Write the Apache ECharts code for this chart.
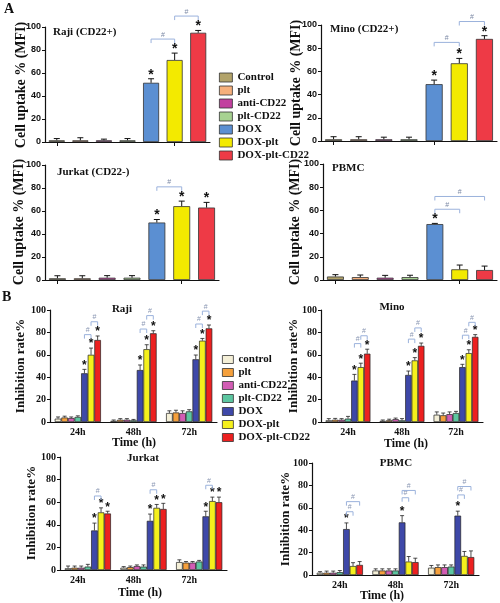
<!DOCTYPE html>
<html><head><meta charset="utf-8">
<script src="https://cdn.jsdelivr.net/npm/echarts@6/dist/echarts.min.js"></script>
<style>html,body{margin:0;padding:0;background:#fff}#c{width:500px;height:603px}</style>
</head><body><div id="c"></div><script>
// ---------- data ----------
const namesA = ["Control","plt","anti-CD22","plt-CD22","DOX","DOX-plt","DOX-plt-CD22"];
const namesB = ["control","plt","anti-CD22","plt-CD22","DOX","DOX-plt","DOX-plt-CD22"];
const timeLabels = ["24h","48h","72h"];

// Panel A: cell uptake % (MFI)
const rajiA    = [1.5,1.5,1.5,1.5,51.5,71.3,95];
const rajiAErr = [1.5,2.2,1,1.5,3.5,6,2];
const minoA    = [1.5,1.5,1.5,1.5,49,67,88];
const minoAErr = [2.2,2.2,1.8,1.8,3.5,4.2,2.8];
const jurkatA    = [1.5,1.5,2,2,50,64.2,63];
const jurkatAErr = [2.2,2.2,1.8,1.8,2.6,4.4,4.5];
const pbmcA    = [3,2.5,2,2.5,48.2,9.2,8.6];
const pbmcAErr = [1.6,1.8,2,1.6,0.6,3.7,3.4];
const starsA3 = [4,5,6];
const starsA1 = [4];
const rajiABr   = [[4,5,89.5],[5,6,109.5]];
const minoABr   = [[4,5,85],[5,6,103]];
const jurkatABr = [[4,5,81]];
const pbmcABr   = [[4,5,61],[4,6,72]];

// Panel B: inhibition rate %, rows = 24h/48h/72h, cols = groups
const rajiB = [[3,4,3.5,4.5,43.5,60,73.2],[1,2,2,1.5,46.4,65,79.2],[8,8.5,8,9.5,56,72.6,83.6]];
const rajiBErr = [[1.5,1.2,1,1,3.5,6,3.6],[0.8,1,1,0.8,4.5,4,2.3],[2,2,2,1.5,3.8,2,3]];
const minoB = [[1.5,2,2,3,37,49,61],[1,1.5,2.5,1.5,42,55,68],[6.5,6,7,8,49,61.5,76]];
const minoBErr = [[1.5,1.2,1,2,5.5,3.5,4],[0.8,1,1,1.5,3.5,2.5,2.5],[2.5,2,2,1.5,2.5,3,2]];
const jurkatB = [[1.5,2,2,3,35,51,50],[2,2.5,3.5,3,43.5,55,54],[7,6.5,6.5,7.5,47.5,61,60]];
const jurkatBErr = [[2,1.5,1.5,2,6.5,4,2],[1,1,1,1.5,6,3,5],[2,1,1,1,4.5,3.5,4.5]];
const pbmcB = [[2,2,2,2.5,41,8,9],[4,4,4,4,47,12,11.5],[6.5,7,7,7.5,53,17,16]];
const pbmcBErr = [[1,1.5,1.5,1.5,5.5,3,3],[1.5,1.5,1.5,1.5,6,4.5,3.5],[2,2,2,1.5,4,4,5.5]];
const starsB3 = [4,5,6];
const starsB1 = [4];
const rajiBBr   = [[0,4,5,78],[0,5,6,89.5],[1,4,5,83],[1,5,6,95],[2,4,5,87.5],[2,5,6,99]];
const minoBBr   = [[0,4,5,70],[0,5,6,77],[1,4,5,74],[1,5,6,84],[2,4,5,77.5],[2,5,6,89]];
const jurkatBBr = [[0,4,5,65.5],[1,4,5,71],[2,4,5,75]];
const pbmcBBr   = [[0,4,5,56.5],[0,4,6,65.5],[1,4,5,69],[1,4,6,75.5],[2,4,5,71.5],[2,4,6,79]];

// ---------- style ----------
const SERIF = '"Liberation Serif","Times New Roman",serif';
const SANS = '"Liberation Sans",Arial,sans-serif';
const colA = ['#b2a36a','#f6b07c','#c2409f','#a7d291','#5b8fd2','#f3ea00','#ee3a46'];
const colB = ['#f4efd7','#f5a03c','#d25cb4','#5cc6a0','#3e48a8','#f5f01c','#ec2020'];
const GAP_B = 0.17;
const BR_COLOR = '#9bb2dc';

const grids=[], xAxes=[], yAxes=[], series=[];

function errA(params, api){
  const x=api.value(0), v=api.value(1), e=api.value(2), s=api.value(3);
  const p0=api.coord([x,v]), p1=api.coord([x,v+e]);
  const ch=[
    {type:'line',shape:{x1:p0[0],y1:p0[1],x2:p1[0],y2:p1[1]},style:{stroke:'#111',lineWidth:1}},
    {type:'line',shape:{x1:p1[0]-3,y1:p1[1],x2:p1[0]+3,y2:p1[1]},style:{stroke:'#111',lineWidth:1}}
  ];
  if(s) ch.push({type:'text',x:p1[0],y:p1[1]-4,style:{text:'*',fill:'#111',font:'bold 14px '+SANS,align:'center',verticalAlign:'middle'}});
  return {type:'group',children:ch};
}
function brA(params, api){
  const a=api.value(0), b=api.value(1), y=api.value(2);
  const pa=api.coord([a,y]), pb=api.coord([b,y]);
  return {type:'group',children:[
    {type:'polyline',shape:{points:[[pa[0],pa[1]+4],[pa[0],pa[1]],[pb[0],pb[1]],[pb[0],pb[1]+4]]},style:{stroke:BR_COLOR,fill:null,lineWidth:1}},
    {type:'text',x:(pa[0]+pb[0])/2,y:pa[1]-1,style:{text:'#',fill:'#7d8aa6',font:'7px '+SANS,align:'center',verticalAlign:'bottom'}}
  ]};
}
function barX(api, g, si){
  const band=api.size([1,0])[0];
  const total=band*(1-GAP_B), w=total/7;
  const c=api.coord([g,0]);
  return c[0]-total/2+w*(si+0.5);
}
function errB(params, api){
  const g=api.value(0), si=api.value(1), v=api.value(2), e=api.value(3), s=api.value(4);
  const x=barX(api,g,si);
  const y0=api.coord([g,v])[1], y1=api.coord([g,v+e])[1];
  const ch=[
    {type:'line',shape:{x1:x,y1:y0,x2:x,y2:y1},style:{stroke:'#222',lineWidth:0.8}},
    {type:'line',shape:{x1:x-2,y1:y1,x2:x+2,y2:y1},style:{stroke:'#222',lineWidth:0.8}}
  ];
  if(s) ch.push({type:'text',x:x,y:y1-4,style:{text:'*',fill:'#111',font:'bold 12px '+SANS,align:'center',verticalAlign:'middle'}});
  return {type:'group',children:ch};
}
function brB(params, api){
  const g=api.value(0), a=api.value(1), b=api.value(2), y=api.value(3);
  const xa=barX(api,g,a), xb=barX(api,g,b), py=api.coord([g,y])[1];
  return {type:'group',children:[
    {type:'polyline',shape:{points:[[xa,py+4],[xa,py],[xb,py],[xb,py+4]]},style:{stroke:BR_COLOR,fill:null,lineWidth:1}},
    {type:'text',x:(xa+xb)/2,y:py-1,style:{text:'#',fill:'#8a97b3',font:'7px '+SANS,align:'center',verticalAlign:'bottom'}}
  ]};
}

function addAxes(box, xData, isA, labelPad){
  grids.push(Object.assign({outerBoundsMode:'none',containLabel:false}, box));
  const gi=grids.length-1;
  xAxes.push({gridIndex:gi,type:'category',data:xData,
    axisLine:{lineStyle:{color:'#111',width:1.2}},
    axisTick:isA?{show:true,alignWithLabel:true,length:4,lineStyle:{color:'#111'}}:{show:false},
    axisLabel:isA?{show:false}:{show:true,color:'#111',fontFamily:SERIF,fontWeight:'bold',fontSize:10,margin:5,padding:labelPad||0},
    splitLine:{show:false}});
  yAxes.push({gridIndex:gi,type:'value',min:0,max:100,interval:20,
    axisLine:{show:true,lineStyle:{color:'#111',width:1.2}},
    axisTick:{show:true,length:3,lineStyle:{color:'#111'}},
    axisLabel:isA?{color:'#111',fontFamily:SANS,fontWeight:'bold',fontSize:9,margin:4}
                 :{color:'#111',fontFamily:SERIF,fontWeight:'bold',fontSize:10,margin:4},
    splitLine:{show:false}});
  return gi;
}

function panelA(box, vals, errs, stars, brs){
  const ai=addAxes(box, namesA, true);
  namesA.forEach((n,i)=>{
    series.push({type:'bar',name:n,xAxisIndex:ai,yAxisIndex:ai,barGap:'-100%',barCategoryGap:'32%',
      data:vals.map((v,j)=>j===i?v:'-'),
      itemStyle:{color:colA[i],borderColor:'#333',borderWidth:0.8},silent:true,animation:false});
  });
  series.push({type:'custom',xAxisIndex:ai,yAxisIndex:ai,renderItem:errA,z:5,silent:true,animation:false,
    encode:{x:0,y:1},data:vals.map((v,i)=>[i,v,errs[i],stars.includes(i)?1:0])});
  series.push({type:'custom',xAxisIndex:ai,yAxisIndex:ai,renderItem:brA,z:5,silent:true,animation:false,
    encode:{x:0,y:2},data:brs});
}
function panelB(box, rows, errRows, stars, brs, labelPad){
  const ai=addAxes(box, timeLabels, false, labelPad);
  namesB.forEach((n,i)=>{
    series.push({type:'bar',name:n,xAxisIndex:ai,yAxisIndex:ai,barGap:'0%',barCategoryGap:(GAP_B*100)+'%',
      data:rows.map(r=>r[i]),
      itemStyle:{color:colB[i],borderColor:'#222',borderWidth:0.7},silent:true,animation:false});
  });
  const ed=[];
  rows.forEach((r,g)=>r.forEach((v,i)=>ed.push([g,i,v,errRows[g][i],stars.includes(i)?1:0])));
  series.push({type:'custom',xAxisIndex:ai,yAxisIndex:ai,renderItem:errB,z:5,silent:true,animation:false,
    encode:{x:0,y:2},data:ed});
  series.push({type:'custom',xAxisIndex:ai,yAxisIndex:ai,renderItem:brB,z:5,silent:true,animation:false,
    encode:{x:0,y:3},data:brs});
}

panelA({left:45,top:27,width:165,height:115}, rajiA, rajiAErr, starsA3, rajiABr);
panelA({left:321,top:25,width:176,height:116}, minoA, minoAErr, starsA3, minoABr);
panelA({left:45,top:165,width:174,height:115}, jurkatA, jurkatAErr, starsA3, jurkatABr);
panelA({left:323,top:164,width:174,height:116}, pbmcA, pbmcAErr, starsA1, pbmcABr);
panelB({left:50,top:310,width:167,height:112}, rajiB, rajiBErr, starsB3, rajiBBr);
panelB({left:321,top:310,width:162,height:112}, minoB, minoBErr, starsB3, minoBBr);
panelB({left:60,top:457,width:167,height:113}, jurkatB, jurkatBErr, starsB3, jurkatBBr, [0,20,0,0]);
panelB({left:312,top:463,width:167,height:112}, pbmcB, pbmcBErr, starsB1, pbmcBBr);

function txt(x,y,text,size,opts){
  return Object.assign({type:'text',x:x,y:y,silent:true,style:{text:text,fill:'#111',font:'bold '+size+'px '+SERIF,align:'left',verticalAlign:'middle'}},opts||{});
}
function vtxt(x,y,text,size){
  return {type:'text',x:x,y:y,rotation:Math.PI/2,silent:true,style:{text:text,fill:'#111',font:'bold '+size+'px '+SERIF,align:'center',verticalAlign:'middle'}};
}
function ctxt(x,y,text,size){
  return {type:'text',x:x,y:y,silent:true,style:{text:text,fill:'#111',font:'bold '+size+'px '+SERIF,align:'center',verticalAlign:'middle'}};
}
const graphics=[
  txt(4,9,'A',14), txt(2,297,'B',14),
  txt(53,32,'Raji (CD22+)',11), txt(330,29,'Mino (CD22+)',11),
  txt(57,172,'Jurkat (CD22-)',11), txt(332,168,'PBMC',11),
  ctxt(122,309,'Raji',11), ctxt(392,307,'Mino',11), ctxt(143,458,'Jurkat',11), ctxt(396,463,'PBMC',11),
  vtxt(21,85,'Cell uptake % (MFI)',14), vtxt(296,83,'Cell uptake % (MFI)',14),
  vtxt(19,222,'Cell uptake % (MFI)',14), vtxt(295,222,'Cell uptake % (MFI)',14),
  vtxt(21,366,'Inhibition rate%',13), vtxt(294,366,'Inhibition rate%',13),
  vtxt(32,513,'Inhibition rate%',13), vtxt(286,519,'Inhibition rate%',13),
  ctxt(134,443,'Time (h)',12), ctxt(406,444,'Time (h)',12),
  ctxt(140,593,'Time (h)',12), ctxt(382,596,'Time (h)',12)
];

const legendText={fontFamily:SERIF,fontWeight:'bold',fontSize:11,color:'#111'};
const option={
  animation:false,
  backgroundColor:'#fff',
  grid:grids, xAxis:xAxes, yAxis:yAxes, series:series,
  legend:[
    {left:219,top:72,orient:'vertical',icon:'rect',itemWidth:13,itemHeight:9,itemGap:2,selectedMode:false,padding:0,
     data:namesA.map((n,i)=>({name:n,itemStyle:{color:colA[i],borderColor:'#333',borderWidth:0.8}})),textStyle:legendText},
    {left:222,top:354,orient:'vertical',icon:'rect',itemWidth:11,itemHeight:8,itemGap:2,selectedMode:false,padding:0,
     data:namesB.map((n,i)=>({name:n,itemStyle:{color:colB[i],borderColor:'#333',borderWidth:0.8}})),textStyle:legendText}
  ],
  graphic:graphics
};
const chart=echarts.init(document.getElementById('c'));
chart.setOption(option);
</script></body></html>
